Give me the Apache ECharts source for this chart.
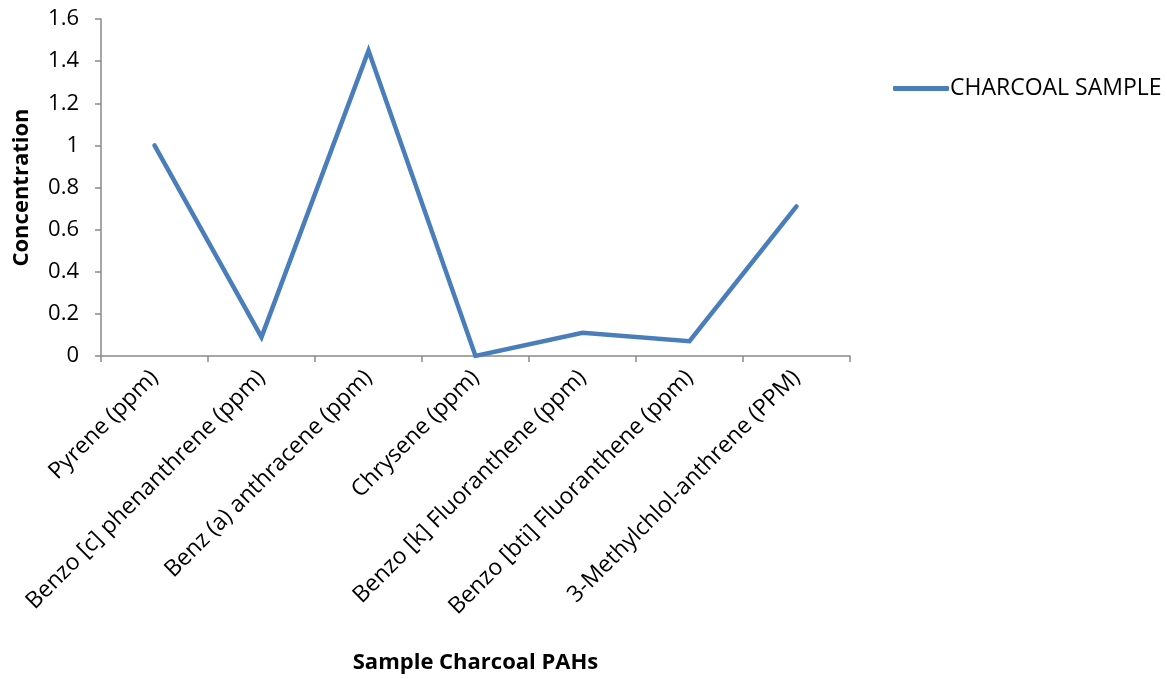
<!DOCTYPE html>
<html>
<head>
<meta charset="utf-8">
<script src="https://cdn.jsdelivr.net/npm/echarts@6/dist/echarts.min.js"></script>
<style>
html,body{margin:0;padding:0;background:#fff;}
#chart{width:1167px;height:679px;}
</style>
</head>
<body>
<div id="chart"></div>
<script>
const categories = [
  "Pyrene (ppm)",
  "Benzo [c] phenanthrene (ppm)",
  "Benz (a) anthracene (ppm)",
  "Chrysene (ppm)",
  "Benzo [k] Fluoranthene (ppm)",
  "Benzo [bti] Fluoranthene (ppm)",
  "3-Methylchlol-anthrene (PPM)"
];
const charcoalValues = [1.0, 0.09, 1.45, 0.0, 0.11, 0.07, 0.71];
const seriesName = "CHARCOAL SAMPLE";
const xAxisTitle = "Sample Charcoal PAHs";
const yAxisTitle = "Concentration";

const FONT = "'Open Sans', 'Liberation Sans', sans-serif";
const chart = echarts.init(document.getElementById('chart'), null, {renderer: 'canvas'});
chart.setOption({
  animation: false,
  backgroundColor: '#ffffff',
  textStyle: {fontFamily: FONT},
  grid: {left: 101, right: 317, top: 19, bottom: 323, containLabel: false, outerBoundsMode: 'none'},
  legend: {
    data: [seriesName],
    left: 888, top: 72,
    icon: 'roundRect',
    itemWidth: 56, itemHeight: 5, itemGap: 0,
    textStyle: {fontFamily: FONT, fontSize: 23, color: '#000', padding: [0,0,0,-4]}
  },
  xAxis: {
    type: 'category',
    data: categories,
    boundaryGap: true,
    name: xAxisTitle,
    nameLocation: 'middle',
    nameGap: 296,
    nameTextStyle: {fontFamily: FONT, fontSize: 22, fontWeight: 'bold', color: '#000'},
    axisLine: {lineStyle: {color: '#898989', width: 1.5}},
    axisTick: {show: true, length: 6, alignWithLabel: false, lineStyle: {color: '#898989', width: 1.5}},
    axisLabel: {rotate: 45, margin: 18, fontFamily: FONT, fontSize: 23, color: '#000', interval: 0}
  },
  yAxis: {
    type: 'value',
    min: 0, max: 1.6, interval: 0.2,
    name: yAxisTitle,
    nameLocation: 'middle',
    nameGap: 68,
    nameRotate: 90,
    nameTextStyle: {fontFamily: FONT, fontSize: 22, fontWeight: 'bold', color: '#000'},
    splitLine: {show: false},
    axisLine: {show: true, lineStyle: {color: '#898989', width: 1.5}},
    axisTick: {show: true, length: 6, lineStyle: {color: '#898989', width: 1.5}},
    axisLabel: {margin: 22, fontFamily: FONT, fontSize: 22, color: '#000',
      formatter: v => (Math.round(v*10)/10).toString()}
  },
  series: [{
    name: seriesName,
    type: 'line',
    data: charcoalValues,
    showSymbol: false,
    symbol: 'none',
    lineStyle: {color: '#4A7EBB', width: 4.5, cap: 'round', join: 'miter'},
    itemStyle: {color: '#4A7EBB'}
  }]
});
</script>
</body>
</html>
